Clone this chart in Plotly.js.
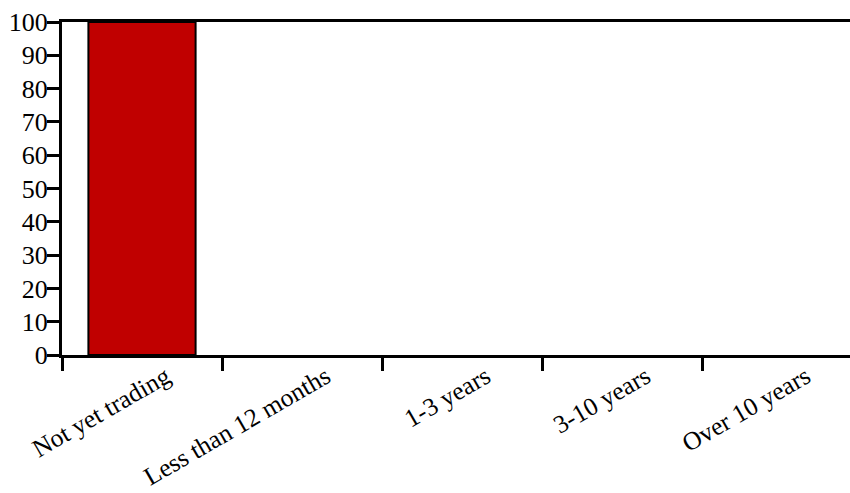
<!DOCTYPE html>
<html>
<head>
<script src="https://cdn.plot.ly/plotly-3.0.1.min.js"></script>
<style>html,body{margin:0;padding:0;background:#fff;}</style>
</head>
<body>
<div id="chart" style="width:850px;height:493px;"></div>
<script>
const categories = ["Not yet trading", "Less than 12 months", "1-3 years", "3-10 years", "Over 10 years"];
const values = [100, 0, 0, 0, 0];
const yTicks = [0, 10, 20, 30, 40, 50, 60, 70, 80, 90, 100];

const trace = {
  type: "bar",
  x: categories,
  y: values,
  marker: {
    color: "#c00000",
    line: {color: "#000000", width: values.map(v => v > 0 ? 2 : 0)}
  },
  hoverinfo: "x+y"
};

const serif = "Liberation Serif, Times New Roman, serif";

const layout = {
  width: 850, height: 493,
  margin: {l: 62, r: 0, t: 22, b: 138},
  paper_bgcolor: "#ffffff", plot_bgcolor: "#ffffff",
  bargap: 0.33,
  showlegend: false,
  font: {family: serif, size: 26, color: "#000"},
  xaxis: {
    type: "category",
    range: [-0.5, 4.425],
    showline: true, linecolor: "#000", linewidth: 3, mirror: true,
    ticks: "outside", tickson: "boundaries", ticklen: 13, tickwidth: 3, tickcolor: "#000",
    tickangle: -30, ticklabelshift: 24, ticklabelstandoff: -6,
    tickfont: {family: serif, size: 25.5, color: "#000"},
    showgrid: false, zeroline: false, fixedrange: true
  },
  yaxis: {
    range: [0, 100],
    tickvals: yTicks,
    showline: true, linecolor: "#000", linewidth: 3,
    ticks: "outside", ticklen: 12, tickwidth: 3, tickcolor: "#000",
    tickfont: {family: serif, size: 26, color: "#000"},
    ticklabelstandoff: -6,
    showgrid: false, zeroline: false, fixedrange: true
  }
};

Plotly.newPlot("chart", [trace], layout, {displayModeBar: false, staticPlot: true});
</script>
</body>
</html>
